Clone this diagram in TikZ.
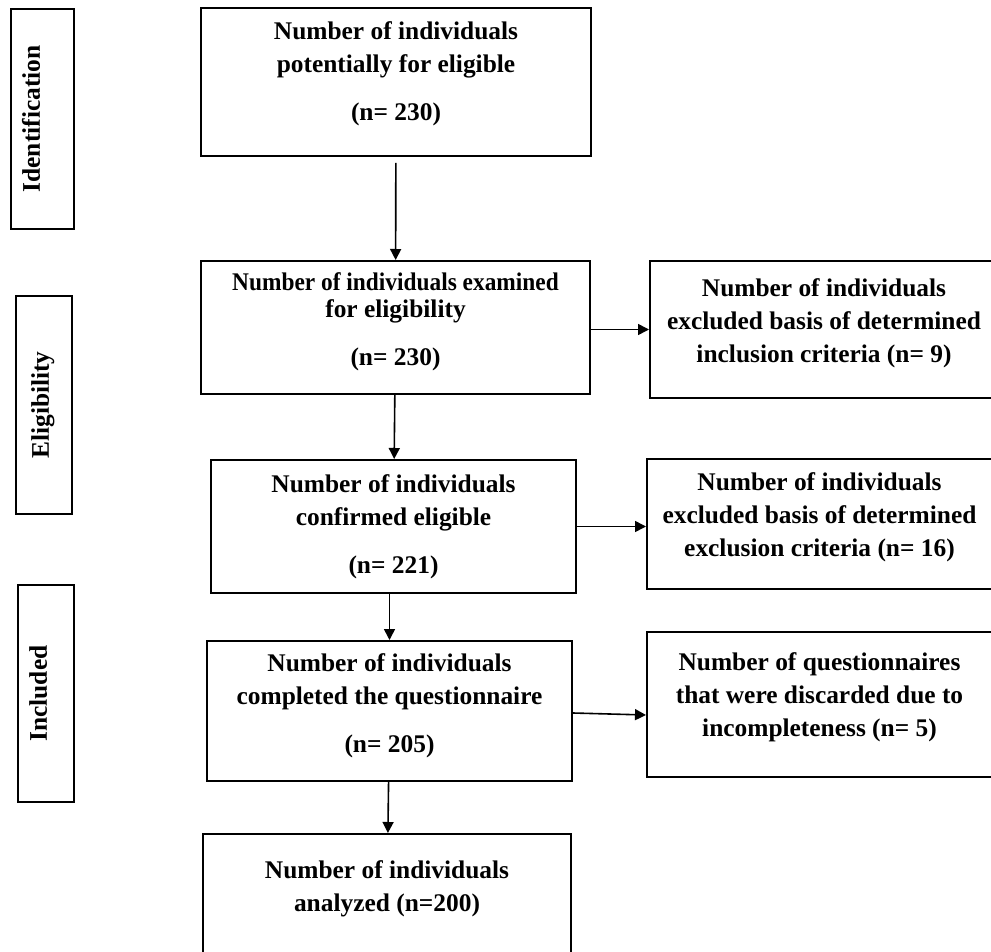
\documentclass[tikz,border=0pt]{standalone}
\usepackage{graphicx}
\usepackage{fontspec}
\setmainfont{Liberation Serif}
\usetikzlibrary{arrows.meta}

\tikzset{
  flowbox/.style={draw, line width=1pt, align=center, inner sep=2pt,
    font=\bfseries\fontsize{12.7}{16.5}\selectfont},
  stagebox/.style={draw, line width=1pt, rotate=90, align=center, inner sep=2pt,
    font=\bfseries\fontsize{12.7}{15}\selectfont},
  flowarrow/.style={line width=0.8pt, -{Triangle[length=5.5pt,width=5.5pt]}}
}

\begin{document}
\begin{tikzpicture}[x=0.5pt, y=-0.5pt]
    \useasboundingbox (0,0) rectangle (991,952);
    \clip (0,0) rectangle (991,952);

    % --- Stage labels (left column) ---
    \node[stagebox, minimum width=110pt, minimum height=31.5pt] (ident) at (42.5,119) {Identification\\[-3.5pt]~};
    \node[stagebox, minimum width=109pt, minimum height=28pt] (elig) at (44,405) {Eligibility\\[-11pt]~};
    \node[stagebox, minimum width=108.5pt, minimum height=28pt] (incl) at (46,693.5) {Included\\[-7pt]~};

    % --- Main flow ---
    \node[flowbox, minimum width=195pt, minimum height=74pt] (pot) at (396,82)
        {Number of individuals\\potentially for eligible\\[7.5pt](n= 230)\\[-5.5pt]~};
    \node[flowbox, minimum width=194.5pt, minimum height=66.5pt] (exam) at (395.5,327.5)
        {\scalebox{0.92}[1]{Number of individuals examined}\\[-3pt]for eligibility\\[7.5pt](n= 230)\\[-8pt]~};
    \node[flowbox, minimum width=182.5pt, minimum height=66.5pt] (conf) at (393.5,526.5)
        {Number of individuals\\confirmed eligible\\[7.5pt](n= 221)};
    \node[flowbox, minimum width=182.5pt, minimum height=70pt] (compl) at (389.5,711)
        {Number of individuals\\completed the questionnaire\\[7.5pt](n= 205)\\[-8.5pt]~};
    \node[flowbox, minimum width=184pt, minimum height=68.5pt] (anal) at (387,902.5)
        {Number of individuals\\analyzed (n=200)\\~};

    % --- Exclusions (right column) ---
    \node[flowbox, minimum width=174pt, minimum height=68.5pt] (inclx) at (824,329.5)
        {Number of individuals\\excluded basis of determined\\inclusion criteria (n= 9)\\[-7.5pt]~};
    \node[flowbox, minimum width=172.5pt, minimum height=65pt] (exclx) at (819.5,524)
        {Number of individuals\\excluded basis of determined\\exclusion criteria (n= 16)\\[-7.5pt]~};
    \node[flowbox, minimum width=172.5pt, minimum height=72.5pt] (disc) at (819.5,704.5)
        {Number of questionnaires\\that were discarded due to\\incompleteness (n= 5)\\[-7pt]~};

    % --- Arrows ---
    \draw[flowarrow, shorten <=3pt] (pot) -- (exam);
    \draw[flowarrow] (exam) -- (conf);
    \draw[flowarrow] (compl.north |- conf.south) -- (compl.north);
    \draw[flowarrow] (compl) -- (anal);
    \draw[flowarrow] ([yshift=-1pt]exam.east) -- ([yshift=-1pt]exam.east -| inclx.west);
    \draw[flowarrow] (conf.east) -- (conf.east -| exclx.west);
    \draw[flowarrow] ([yshift=-1pt]compl.east) -- ([yshift=-2pt]disc.west |- compl.east);
\end{tikzpicture}
\end{document}
